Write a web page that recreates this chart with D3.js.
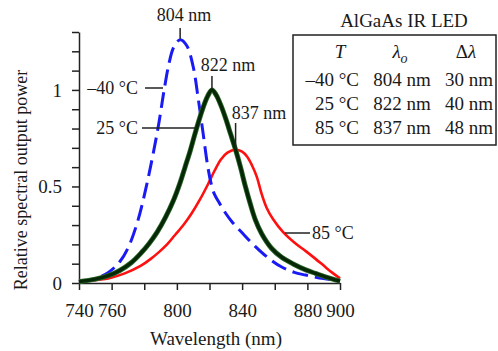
<!DOCTYPE html>
<meta charset="utf-8">
<script src="https://cdn.jsdelivr.net/npm/d3@7"></script>
<style>
    body { margin: 0; background: #fff; }
</style>
<svg width="498" height="351" class="plot"></svg>
<script>

// spectra: wavelength (nm) and relative power
var wlCold = [740,750,758,765,770,776,781,785,789,792,795,798,802,806,810,813,816,819,821,823,826,830,834,840,848,856,864,872,879,886,893,900];
var pCold  = [0.005,0.022,0.055,0.11,0.18,0.32,0.49,0.65,0.83,0.99,1.13,1.22,1.26,1.23,1.12,0.96,0.78,0.60,0.515,0.46,0.415,0.36,0.315,0.26,0.19,0.13,0.084,0.055,0.041,0.028,0.019,0.012];

var wlRoom = [740,750,758,765,772,778,783,788,793,798,802,805,808,811,814,817,819,821.5,824,827,830,833,836,839,842,845,848,852,858,864,871,879,885,891,900];
var pRoom  = [0.007,0.02,0.038,0.065,0.105,0.155,0.205,0.265,0.34,0.43,0.52,0.60,0.68,0.77,0.855,0.93,0.97,1.0,0.975,0.92,0.85,0.77,0.69,0.60,0.50,0.41,0.33,0.255,0.18,0.135,0.10,0.068,0.05,0.032,0.01];

var wlHot = [740,750,758,768,778,784,789,794,799,804,809,814,819,823,827,831,836,840,843,846,849,852,855,859,865,872,879,885,890,895,900];
var pHot  = [0.01,0.015,0.024,0.05,0.09,0.125,0.16,0.20,0.25,0.30,0.36,0.43,0.51,0.58,0.64,0.675,0.69,0.68,0.655,0.61,0.55,0.46,0.39,0.33,0.265,0.21,0.165,0.125,0.09,0.055,0.024];

var xTicks = d3.range(740, 901, 20);
var xLabels = [740, 760, 800, 840, 880, 900];
var yTicks = d3.range(0, 14).map(function(i){ return i / 10; });
var yLabels = [0, 0.5, 1];

var tempLabels = ['\u201340 \u00b0C', '25 \u00b0C', '85 \u00b0C'];
var peakLabels = ['804 nm', '822 nm', '837 nm'];
var peakNm = [802, 821.5, 836];
var tablePeaks = ['804 nm', '822 nm', '837 nm'];
var tableWidths = ['30 nm', '40 nm', '48 nm'];

var serif = '"Liberation Serif"';
var ink = '#1a1a1a';

var svg = d3.select('svg.plot');

var x = d3.scaleLinear().domain([740, 900]).range([79, 340]);
var y = d3.scaleLinear().domain([0, 1.3]).range([283, 32]);

var xAxis = d3.axisBottom(x)
    .tickValues(xTicks)
    .tickSize(7)
    .tickSizeOuter(0)
    .tickPadding(14)
    .tickFormat(function(d){ return xLabels.indexOf(d) >= 0 ? d : ''; });

var yAxis = d3.axisLeft(y)
    .tickValues(yTicks)
    .tickSize(7)
    .tickSizeOuter(0)
    .tickPadding(10)
    .tickFormat(function(d){
        var hit = yLabels.filter(function(v){ return Math.abs(v - d) < 1e-6; });
        return hit.length ? hit[0] : '';
    });

var gx = svg.append('g')
    .attr('transform', 'translate(0,' + y(0) + ')')
    .call(xAxis);
var gy = svg.append('g')
    .attr('transform', 'translate(' + x(740) + ',0)')
    .call(yAxis);

[gx, gy].forEach(function(g){
    g.selectAll('path, line').attr('stroke', '#222').attr('stroke-width', 1.5);
    g.selectAll('text')
        .attr('font-family', serif)
        .attr('font-size', 19)
        .attr('fill', ink);
});

svg.append('text')
    .attr('x', 216).attr('y', 345)
    .attr('text-anchor', 'middle')
    .attr('font-family', serif).attr('font-size', 19).attr('fill', ink)
    .text('Wavelength (nm)');

svg.append('text')
    .attr('transform', 'translate(27,180) rotate(-90)')
    .attr('text-anchor', 'middle')
    .attr('font-family', serif).attr('font-size', 18).attr('fill', ink)
    .text('Relative spectral output power');

var line = d3.line()
    .x(function(d){ return x(d[0]); })
    .y(function(d){ return y(d[1]); })
    .curve(d3.curveCatmullRom.alpha(0.5));

function pairs(w, p){ return w.map(function(v, i){ return [v, p[i]]; }); }

svg.append('path')
    .datum(pairs(wlHot, pHot))
    .attr('fill', 'none')
    .attr('stroke', '#ff1010')
    .attr('stroke-width', 2.6)
    .attr('d', line);

svg.append('path')
    .datum(pairs(wlCold, pCold))
    .attr('fill', 'none')
    .attr('stroke', '#1a1af5')
    .attr('stroke-width', 3)
    .attr('stroke-dasharray', '16,7')
    .attr('d', line);

svg.append('path')
    .datum(pairs(wlRoom, pRoom))
    .attr('fill', 'none')
    .attr('stroke', '#2c6a2c')
    .attr('stroke-width', 5)
    .attr('d', line);
svg.append('path')
    .datum(pairs(wlRoom, pRoom))
    .attr('fill', 'none')
    .attr('stroke', '#062806')
    .attr('stroke-width', 3.4)
    .attr('d', line);

// leader lines and annotations
var leaders = svg.append('g').attr('stroke', '#222').attr('stroke-width', 1.5);

function note(xp, yp, anchor, size, str){
    return svg.append('text')
        .attr('x', xp).attr('y', yp)
        .attr('text-anchor', anchor)
        .attr('font-family', serif).attr('font-size', size).attr('fill', ink)
        .text(str);
}

var peakVals = [d3.max(pCold), d3.max(pRoom), d3.max(pHot)];
var peakTextY = [21, 71, 119];
var peakTextX = [184, 228, 259];
var peakTopY = [28, 76, 123];
peakNm.forEach(function(nm, i){
    leaders.append('line')
        .attr('x1', x(nm)).attr('x2', x(nm))
        .attr('y1', peakTopY[i]).attr('y2', y(peakVals[i]) - 1);
    note(peakTextX[i], peakTextY[i], 'middle', 18, peakLabels[i]);
});

// temperature labels with leaders to their curves
var tempY = [88, 128, 233];
var tempTextX = [138, 138, 312];
var tempLeader = [[145, 163], [142, 195], [285, 310]];
tempLabels.forEach(function(t, i){
    leaders.append('line')
        .attr('x1', tempLeader[i][0]).attr('x2', tempLeader[i][1])
        .attr('y1', tempY[i]).attr('y2', tempY[i]);
    note(tempTextX[i], tempY[i] + 6, i === 2 ? 'start' : 'end', 18, t);
});

// table
note(404, 27, 'middle', 19, 'AlGaAs IR LED');

svg.append('rect')
    .attr('x', 293).attr('y', 35)
    .attr('width', 203).attr('height', 110)
    .attr('fill', 'none')
    .attr('stroke', '#222')
    .attr('stroke-width', 1.5);

note(340, 58, 'middle', 19, 'T').attr('font-style', 'italic');
var lam = note(400, 58, 'middle', 19, null);
lam.append('tspan').attr('font-style', 'italic').text('\u03bb');
lam.append('tspan').attr('font-style', 'italic').attr('font-size', 14).attr('dy', 5).text('o');
var dl = note(466, 58, 'middle', 19, null);
dl.append('tspan').text('\u0394');
dl.append('tspan').attr('font-style', 'italic').text('\u03bb');

var rowY = [86, 110, 134];
tempLabels.forEach(function(t, i){
    note(359, rowY[i], 'end', 19, t);
    note(402, rowY[i], 'middle', 19, tablePeaks[i]);
    note(469, rowY[i], 'middle', 19, tableWidths[i]);
});

</script>
